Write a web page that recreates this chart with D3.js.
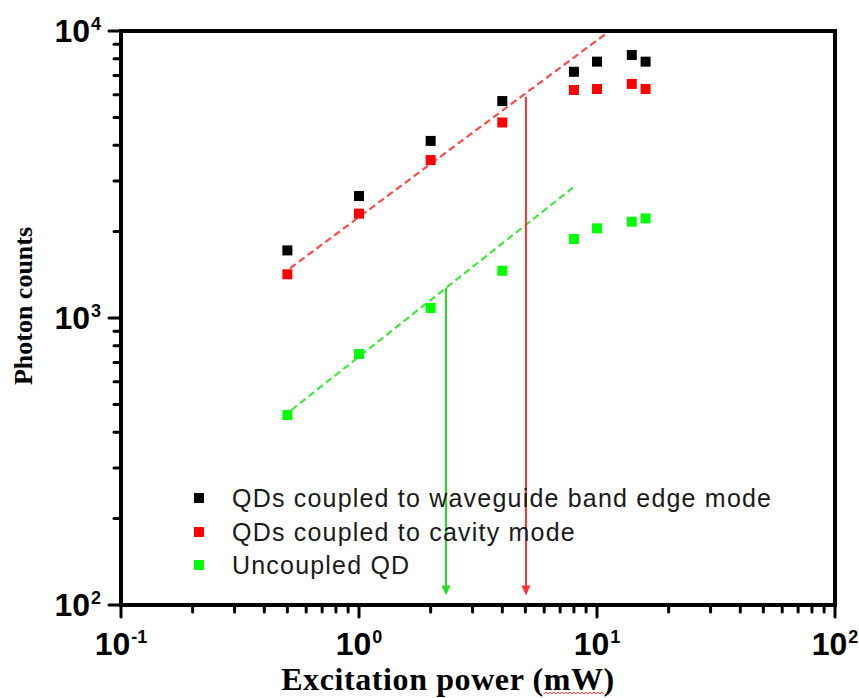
<!DOCTYPE html>
<html>
<head>
<meta charset="utf-8">
<script src="https://cdn.jsdelivr.net/npm/d3@7"></script>
<style>
  html, body { margin: 0; padding: 0; background: #fff; }
  svg { display: block; }
</style>
</head>
<body>
<svg id="chart" width="859" height="698"></svg>
<script>
// ---- data ----
const powers = [0.5, 1, 2, 4, 8, 10, 14, 16];
const waveguideCounts = [1720, 2660, 4140, 5700, 7210, 7820, 8250, 7820];
const cavityCounts = [1420, 2310, 3550, 4800, 6230, 6280, 6540, 6280];
const uncoupledCounts = [459, 749, 1084, 1461, 1884, 2053, 2165, 2224];
const seriesNames = ["QDs coupled to waveguide band edge mode", "QDs coupled to cavity mode", "Uncoupled QD"];
const seriesColors = ["#000000", "#ff0000", "#00ff00"];
const cavityFitX = [0.513, 11.0];
const cavityFitY = [1490, 9840];
const uncoupledFitX = [0.52, 7.92];
const uncoupledFitY = [478, 2844];
const arrowX = [2.32, 5.03];
const arrowTopY = [1272, 5900];
const arrowBottomY = [108, 108];
const arrowColors = ["#22dd22", "#ff3333"];
const xTickExponents = [-1, 0, 1, 2];
const yTickExponents = [2, 3, 4];
const xTitle = "Excitation power (mW)";
const yTitle = "Photon counts";

// ---- layout ----
const svg = d3.select("#chart");
const L = 121, R = 835, T = 31, B = 605;
const x = d3.scaleLog().domain([0.1, 100]).range([L, R]);
const y = d3.scaleLog().domain([100, 10000]).range([B, T]);
const isMajor = v => Math.abs(Math.log10(v) - Math.round(Math.log10(v))) < 1e-9;

// fit lines (dashed)
const fits = [
  {xs: cavityFitX, ys: cavityFitY, color: "#ff4a4a"},
  {xs: uncoupledFitX, ys: uncoupledFitY, color: "#3ee83e"}
];
fits.forEach(f => {
  svg.append("line")
    .attr("x1", x(f.xs[0])).attr("y1", y(f.ys[0]))
    .attr("x2", x(f.xs[1])).attr("y2", y(f.ys[1]))
    .attr("stroke", f.color).attr("stroke-width", 2.2)
    .attr("stroke-dasharray", "7,4");
});

// arrows
arrowX.forEach((ax, i) => {
  const px = x(ax), top = y(arrowTopY[i]), tip = y(arrowBottomY[i]);
  svg.append("line").attr("x1", px).attr("x2", px)
    .attr("y1", top).attr("y2", tip - 8)
    .attr("stroke", arrowColors[i]).attr("stroke-width", 2);
  svg.append("path")
    .attr("d", `M${px - 4.5},${tip - 10} L${px + 4.5},${tip - 10} L${px},${tip} Z`)
    .attr("fill", arrowColors[i]);
});

// markers
const allSeries = [waveguideCounts, cavityCounts, uncoupledCounts];
allSeries.forEach((vals, si) => {
  svg.append("g").selectAll("rect").data(vals).join("rect")
    .attr("x", (d, i) => x(powers[i]) - 5)
    .attr("y", d => y(d) - 5)
    .attr("width", 10).attr("height", 10)
    .attr("fill", seriesColors[si]);
});

// frame
svg.append("rect").attr("x", L).attr("y", T).attr("width", R - L).attr("height", B - T)
  .attr("fill", "none").attr("stroke", "#000").attr("stroke-width", 4);

// ticks x
svg.append("g").selectAll("line").data(x.ticks()).join("line")
  .attr("x1", d => x(d)).attr("x2", d => x(d))
  .attr("y1", B).attr("y2", d => B + (isMajor(d) ? 12 : 7))
  .attr("stroke", "#000").attr("stroke-width", 3).attr("stroke-linecap", "round");
// ticks y
svg.append("g").selectAll("line").data(y.ticks()).join("line")
  .attr("y1", d => y(d)).attr("y2", d => y(d))
  .attr("x1", L).attr("x2", d => L - (isMajor(d) ? 12 : 7))
  .attr("stroke", "#000").attr("stroke-width", 3).attr("stroke-linecap", "round");

// tick labels
const labFont = "'Liberation Sans', Arial, sans-serif";
xTickExponents.forEach(e => {
  const t = svg.append("text").attr("x", x(Math.pow(10, e))).attr("y", 655)
    .attr("text-anchor", "middle").attr("font-family", labFont)
    .attr("font-weight", "bold").attr("font-size", 32);
  t.append("tspan").text("10");
  t.append("tspan").attr("dy", -12).attr("font-size", 18).attr("dx", 1).text(String(e));
});
yTickExponents.forEach(e => {
  const t = svg.append("text").attr("x", 101).attr("y", y(Math.pow(10, e)) + 11)
    .attr("text-anchor", "end").attr("font-family", labFont)
    .attr("font-weight", "bold").attr("font-size", 32);
  t.append("tspan").text("10");
  t.append("tspan").attr("dy", -12).attr("font-size", 18).attr("dx", 1).text(String(e));
});

// axis titles
const serif = "'Liberation Serif', 'Times New Roman', serif";
const xt = svg.append("text").attr("x", 448).attr("y", 690)
  .attr("text-anchor", "middle").attr("font-family", serif)
  .attr("font-weight", "bold").attr("font-size", 32).attr("letter-spacing", 0.6).text(xTitle);
svg.append("text").attr("transform", "translate(32,306) rotate(-90)")
  .attr("text-anchor", "middle").attr("font-family", serif)
  .attr("font-weight", "bold").attr("font-size", 26).text(yTitle);

// spell-check squiggle under "mW"
(function () {
  const node = xt.node();
  const idx = xTitle.indexOf("mW");
  const s = node.getStartPositionOfChar(idx).x;
  const e = node.getEndPositionOfChar(idx + 1).x;
  let d = `M${s},694`;
  for (let px = s, k = 0; px < e; px += 2, k++) d += ` L${px + 2},${k % 2 ? 694 : 692}`;
  svg.append("path").attr("d", d).attr("fill", "none").attr("stroke", "#ff2020").attr("stroke-width", 1);
})();

// legend
const legY = [498, 532, 565];
seriesNames.forEach((name, i) => {
  svg.append("rect").attr("x", 194).attr("y", legY[i] - 5).attr("width", 10).attr("height", 10)
    .attr("fill", seriesColors[i]);
  svg.append("text").attr("x", 232).attr("y", legY[i] + 9)
    .attr("font-family", labFont).attr("font-size", 25).attr("letter-spacing", 1.2)
    .attr("fill", "#1a1a1a").text(name);
});
</script>
</body>
</html>
